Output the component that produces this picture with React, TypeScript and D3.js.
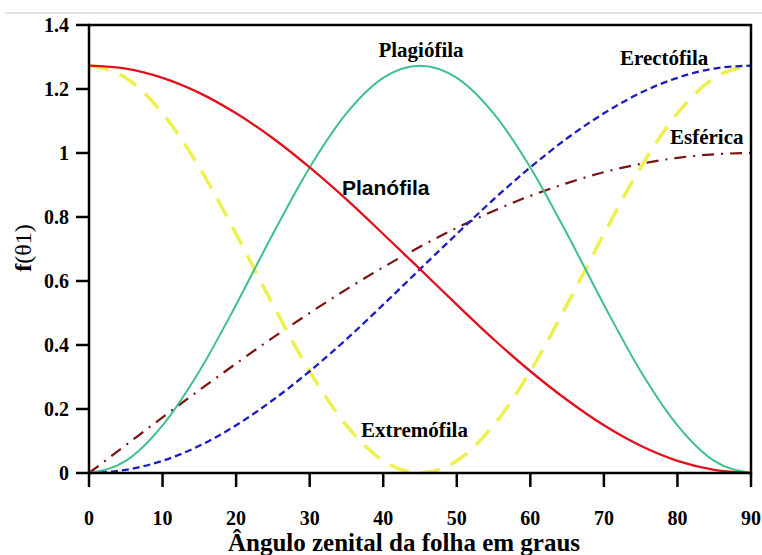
import * as d3 from "d3"

// leaf zenith angle, degrees
const angles = [0, 5, 10, 15, 20, 25, 30, 35, 40, 45, 50, 55, 60, 65, 70, 75, 80, 85, 90]

const planofila = [1.273, 1.264, 1.235, 1.188, 1.124, 1.046, 0.955, 0.855, 0.747, 0.637, 0.526, 0.418, 0.318, 0.228, 0.149, 0.085, 0.038, 0.01, 0]
const erectofila = [0, 0.01, 0.038, 0.085, 0.149, 0.228, 0.318, 0.418, 0.526, 0.637, 0.747, 0.855, 0.955, 1.046, 1.124, 1.188, 1.235, 1.264, 1.273]
const plagiofila = [0, 0.038, 0.149, 0.318, 0.526, 0.747, 0.955, 1.124, 1.235, 1.273, 1.235, 1.124, 0.955, 0.747, 0.526, 0.318, 0.149, 0.038, 0]
const extremofila = [1.273, 1.235, 1.124, 0.955, 0.747, 0.526, 0.318, 0.149, 0.038, 0, 0.038, 0.149, 0.318, 0.526, 0.747, 0.955, 1.124, 1.235, 1.273]
const esferica = [0, 0.087, 0.174, 0.259, 0.342, 0.423, 0.5, 0.574, 0.643, 0.707, 0.766, 0.819, 0.866, 0.906, 0.94, 0.966, 0.985, 0.996, 1]

const xTicks = [0, 10, 20, 30, 40, 50, 60, 70, 80, 90]
const yTicks = [0, 0.2, 0.4, 0.6, 0.8, 1, 1.2, 1.4]

const W = 762
const H = 555
const margin = { left: 89, right: 11, top: 25, bottom: 82 }

const SERIF = "'Liberation Serif', 'Times New Roman', serif"
const SANS = "'Liberation Sans', Arial, sans-serif"

export default function App() {
  const x = d3.scaleLinear().domain([0, 90]).range([margin.left, W - margin.right])
  const y = d3.scaleLinear().domain([0, 1.4]).range([H - margin.bottom, margin.top])

  const line = (vals: number[]) =>
    d3
      .line<number>()
      .x((_, i) => x(angles[i]))
      .y((d) => y(d))
      .curve(d3.curveMonotoneX)(vals) ?? ""

  const series = [
    { vals: esferica, color: "#7a1212", width: 2.2, dash: "12,7,2,7" },
    { vals: extremofila, color: "#eef050", width: 3.5, dash: "20,12" },
    { vals: erectofila, color: "#1c1cc4", width: 2.3, dash: "7,4" },
    { vals: plagiofila, color: "#3fbf8c", width: 2, dash: "" },
    { vals: planofila, color: "#e0101c", width: 2.3, dash: "" },
  ]

  const x0 = x(0)
  const x1 = x(90)
  const y0 = y(0)
  const y1 = y(1.4)

  return (
    <svg
      width={W}
      height={H}
      style={{ position: "absolute", left: 0, top: 0, background: "#fff" }}
    >
      <line x1={5} x2={W} y1={13} y2={13} stroke="#c8c8c8" strokeWidth={1.2} />

      {series.map((s, i) => (
        <path
          key={i}
          d={line(s.vals)}
          fill="none"
          stroke={s.color}
          strokeWidth={s.width}
          strokeDasharray={s.dash || undefined}
        />
      ))}

      {/* frame */}
      <rect x={x0} y={y1} width={x1 - x0} height={y0 - y1} fill="none" stroke="#000" strokeWidth={2.5} />

      {xTicks.map((t) => (
        <g key={t}>
          <line x1={x(t)} x2={x(t)} y1={y0} y2={y0 + 14} stroke="#000" strokeWidth={2.5} />
          <text
            x={x(t)}
            y={525}
            textAnchor="middle"
            fontFamily={SERIF}
            fontWeight="bold"
            fontSize={20}
          >
            {t}
          </text>
        </g>
      ))}

      {yTicks.map((t) => (
        <g key={t}>
          <line x1={x0 - 13} x2={x0} y1={y(t)} y2={y(t)} stroke="#000" strokeWidth={2.5} />
          <text
            x={69}
            y={y(t)}
            dy="0.35em"
            textAnchor="end"
            fontFamily={SERIF}
            fontWeight="bold"
            fontSize={20}
          >
            {t}
          </text>
        </g>
      ))}

      <text
        x={404}
        y={551}
        textAnchor="middle"
        fontFamily={SERIF}
        fontWeight="bold"
        fontSize={25}
      >
        Ângulo zenital da folha em graus
      </text>

      <text
        transform="translate(31,248) rotate(-90)"
        textAnchor="middle"
        fontFamily={SERIF}
        fontSize={24}
      >
        <tspan fontWeight="bold">f</tspan>(θ1)
      </text>

      <text x={421} y={57} textAnchor="middle" fontFamily={SERIF} fontWeight="bold" fontSize={21}>
        Plagiófila
      </text>
      <text x={620} y={65} fontFamily={SERIF} fontWeight="bold" fontSize={21}>
        Erectófila
      </text>
      <text x={670} y={144} fontFamily={SERIF} fontWeight="bold" fontSize={21}>
        Esférica
      </text>
      <text x={342} y={195} fontFamily={SANS} fontWeight="bold" fontSize={21}>
        Planófila
      </text>
      <text x={361} y={437} fontFamily={SERIF} fontWeight="bold" fontSize={21}>
        Extremófila
      </text>
    </svg>
  )
}
